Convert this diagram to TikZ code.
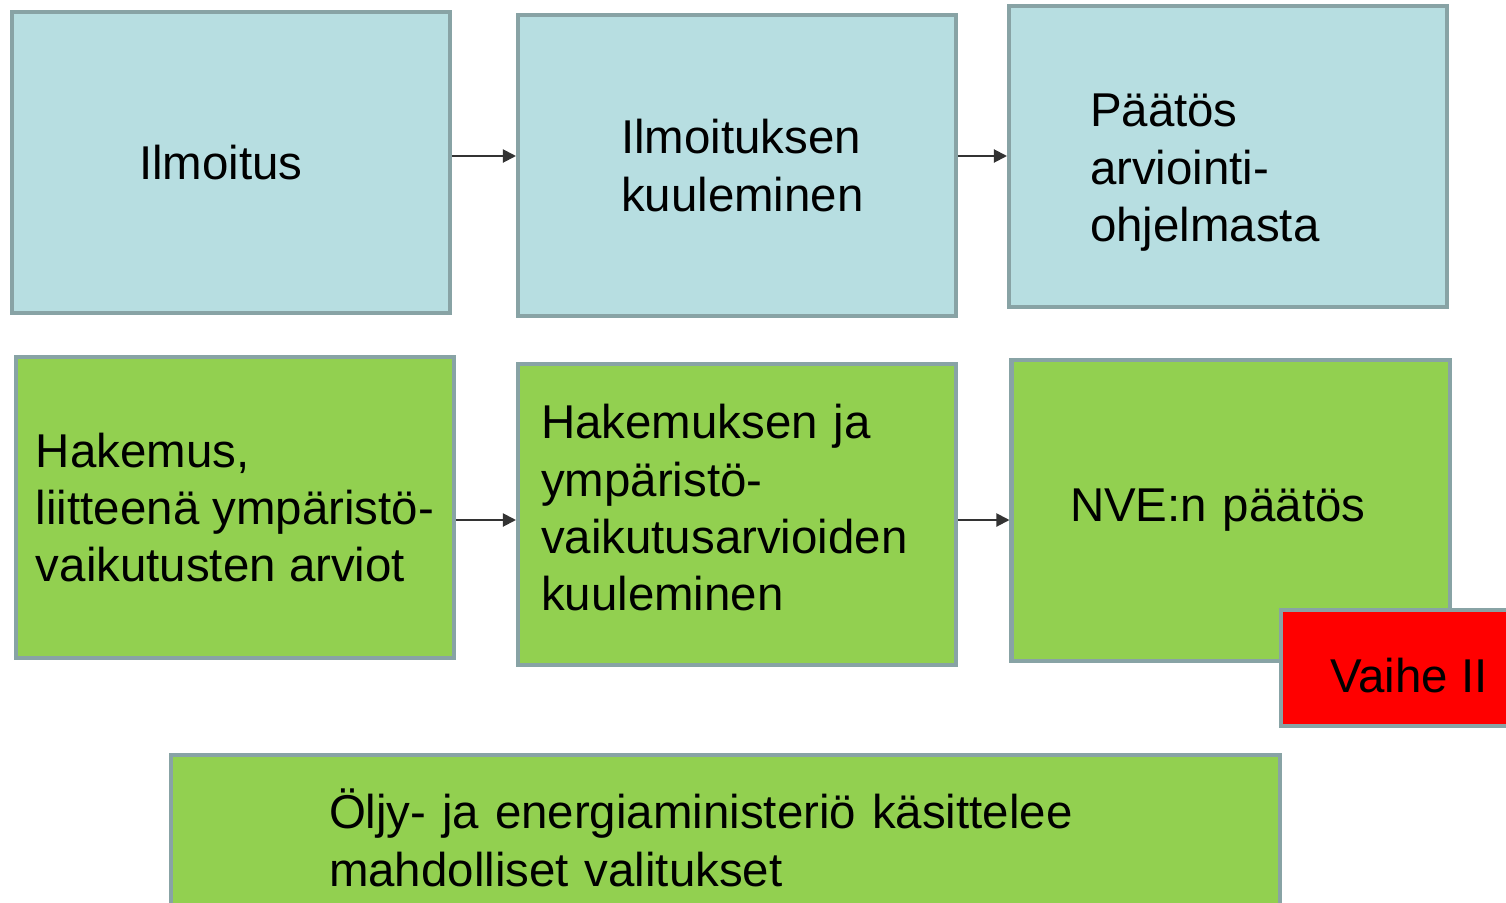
\documentclass[tikz,border=0pt]{standalone}
\usepackage{fontspec}
\setmainfont{Liberation Sans}
\usetikzlibrary{arrows.meta}
\definecolor{boxline}{HTML}{88A3A5}
\definecolor{ilmofill}{HTML}{B7DEE1}
\definecolor{hakfill}{HTML}{92D050}
\begin{document}
\begin{tikzpicture}[
	font=\fontsize{27}{32.6}\selectfont,
	box/.style={draw=boxline, line width=2.3pt, minimum width=8.76cm,
		minimum height=6.02cm, align=left, inner sep=0pt},
	ilmo/.style={box, fill=ilmofill},
	hak/.style={box, fill=hakfill},
	arr/.style={-{Triangle[length=2.6mm,width=2.6mm]}, line width=1.1pt, black!80}]
   \useasboundingbox (0,0) rectangle (30.12,-18.04);
   % first row
   \node[ilmo, text width=3.68cm] (ilmoitus) at (4.62,-3.25) {Ilmoitus};
   \node[ilmo, text width=4.64cm] (ikuul) at (14.74,-3.31) {Ilmoituksen\\kuuleminen};
   \node[ilmo, text width=5.52cm] (paatos) at (24.56,-3.13) {\rule{0pt}{1.3cm}Päätös\\arviointi-\\ohjelmasta};
   % second row
   \node[hak] (hakemus) at (4.70,-10.15) {Hakemus,\\liitteenä ympäristö-\\vaikutusten arviot};
   \node[hak, text width=7.84cm] (hkuul) at (14.74,-10.29) {Hakemuksen ja\\ympäristö-\\vaikutusarvioiden\\kuuleminen\rule[-0.28cm]{0pt}{0pt}};
   \node[hak, text width=6.42cm] (nve) at (24.61,-10.21) {NVE:n päätös};
   \node[box, fill=red, minimum width=5.12cm, minimum height=2.32cm] (vaihe) at (28.18,-13.36) {\rule{0pt}{1cm}Vaihe II};
   % appeals
   \node[hak, minimum width=22.18cm, minimum height=3.32cm, text width=15.86cm] (valitus) at (14.51,-16.76)
      {Öljy- ja energiaministeriö käsittelee\\mahdolliset valitukset};
   \coordinate (r1) at (0,-3.12);
   \coordinate (r2) at (0,-10.40);
   \draw[arr] (ilmoitus.east |- r1) -- (ikuul.west |- r1);
   \draw[arr] (ikuul.east |- r1) -- (paatos.west |- r1);
   \draw[arr] (hakemus.east |- r2) -- (hkuul.west |- r2);
   \draw[arr] (hkuul.east |- r2) -- (nve.west |- r2);
\end{tikzpicture}
\end{document}
